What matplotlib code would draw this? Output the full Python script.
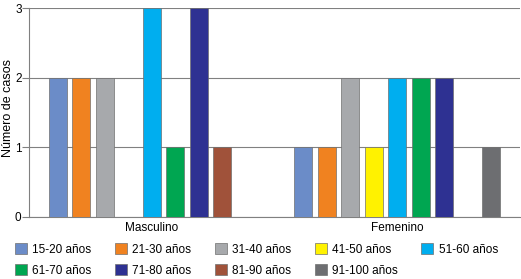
import numpy as np
import matplotlib.pyplot as plt

plt.rcParams['font.family'] = ['Liberation Sans', 'DejaVu Sans']

# categories and series
grupos = ['Masculino', 'Femenino']
edades = ['15-20 años', '21-30 años', '31-40 años', '41-50 años', '51-60 años',
          '61-70 años', '71-80 años', '81-90 años', '91-100 años']
masculino = [2, 2, 2, 0, 3, 1, 3, 1, 0]
femenino = [1, 1, 2, 1, 2, 2, 2, 0, 1]
colores = ['#6b8cc8', '#f08220', '#a7a9ac', '#fff200', '#00aeef',
           '#00a651', '#2e3192', '#a0523a', '#6d6e71']

fig = plt.figure(figsize=(5.21, 2.79), dpi=100)
ax = fig.add_axes([0.056, 0.224, 0.942, 0.747])

x = np.arange(len(grupos))
slot = 0.0957
width = 0.0733
handles = []
for i, edad in enumerate(edades):
    vals = [masculino[i], femenino[i]]
    b = ax.bar(x + (i - 4) * slot, vals, width, color=colores[i],
               edgecolor='#707070', linewidth=0.5, label=edad, zorder=3)
    handles.append(b)

ax.set_xlim(-0.5, 1.5)
ax.set_ylim(0, 3)
ax.set_yticks([0, 1, 2, 3])
ax.set_xticks(x)
ax.set_xticklabels(grupos, fontsize=8.5)
ax.tick_params(axis='x', length=0, pad=4)
ax.tick_params(axis='y', labelsize=8.5, length=5, color='#808080', pad=0.5)
fig.text(0.015, 0.613, 'Número de casos', rotation=90, fontsize=9,
         ha='center', va='center')
ax.yaxis.grid(True, color='#808080', linewidth=0.8, zorder=0)
for s in ['top', 'right']:
    ax.spines[s].set_visible(False)
for s in ['left', 'bottom']:
    ax.spines[s].set_color('#808080')
    ax.spines[s].set_linewidth(0.8)

# legend in rows of five
orden = [0, 5, 1, 6, 2, 7, 3, 8, 4]
fig.legend([handles[k] for k in orden], [edades[k] for k in orden],
           ncol=5, loc='lower left', bbox_to_anchor=(0.009, -0.03),
           frameon=False, fontsize=8.5, handlelength=1.0, handleheight=1.0,
           handletextpad=0.45, columnspacing=2.0, labelspacing=0.75)

fig.savefig('out.png', dpi=100)
